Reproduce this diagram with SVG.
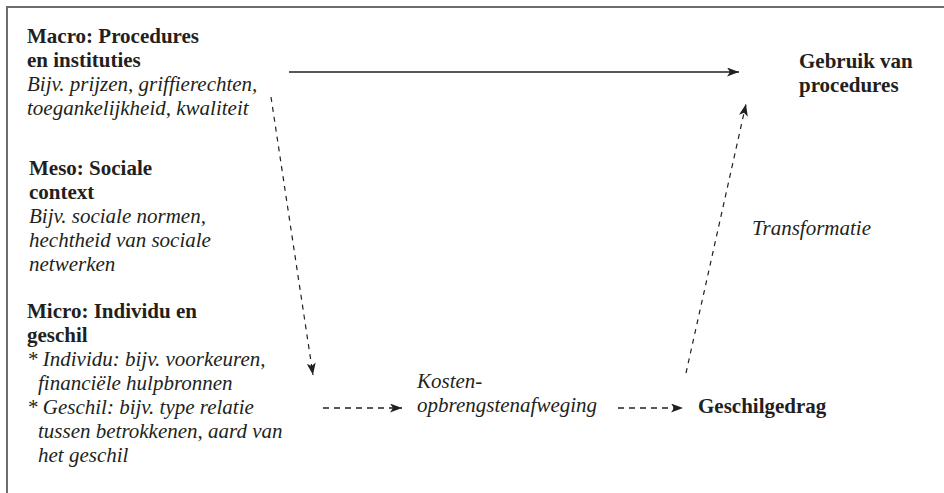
<svg xmlns="http://www.w3.org/2000/svg" width="944" height="493" viewBox="0 0 944 493">
<style>
  text { font-family: "Liberation Serif", "Times New Roman", serif; font-size: 21px; fill: #231f20; }
  .b { font-weight: bold; }
  .i { font-style: italic; }
  .frame { fill: none; stroke: #6d6d6d; stroke-width: 2; }
  .solid { fill: none; stroke: #231f20; stroke-width: 1.4; }
  .dash { fill: none; stroke: #231f20; stroke-width: 1.2; stroke-dasharray: 5 5; }
  .hdash { fill: none; stroke: #231f20; stroke-width: 1.3; stroke-dasharray: 6 5; }
</style>
<defs>
  <marker id="ah" markerUnits="userSpaceOnUse" markerWidth="13" markerHeight="9" refX="12" refY="4.5" orient="auto">
    <path d="M0,0 L12,4.5 L0,9 L3,4.5 Z" fill="#231f20"/>
  </marker>
</defs>
<rect width="944" height="493" fill="#ffffff"/>
<path class="frame" d="M7,493 L7,7 L944,7"/>

<g id="macro">
  <text class="b" x="27" y="43">Macro: Procedures</text>
  <text class="b" x="27" y="67">en instituties</text>
  <text class="i" x="27" y="91">Bijv. prijzen, griffierechten,</text>
  <text class="i" x="27" y="115">toegankelijkheid, kwaliteit</text>
</g>

<g id="meso">
  <text class="b" x="29" y="175">Meso: Sociale</text>
  <text class="b" x="29" y="199">context</text>
  <text class="i" x="29" y="223">Bijv. sociale normen,</text>
  <text class="i" x="29" y="247">hechtheid van sociale</text>
  <text class="i" x="29" y="271">netwerken</text>
</g>

<g id="micro">
  <text class="b" x="27" y="318">Micro: Individu en</text>
  <text class="b" x="27" y="342">geschil</text>
  <text class="i" x="27" y="366">* Individu: bijv. voorkeuren,</text>
  <text class="i" x="38" y="390">financiële hulpbronnen</text>
  <text class="i" x="27" y="414">* Geschil: bijv. type relatie</text>
  <text class="i" x="38" y="438">tussen betrokkenen, aard van</text>
  <text class="i" x="38" y="462">het geschil</text>
</g>

<g id="gebruik">
  <text class="b" x="799" y="68">Gebruik van</text>
  <text class="b" x="799" y="92">procedures</text>
</g>

<g id="kosten">
  <text class="i" x="417" y="388">Kosten-</text>
  <text class="i" x="417" y="412">opbrengstenafweging</text>
</g>

<g id="geschilgedrag">
  <text class="b" x="698" y="413">Geschilgedrag</text>
</g>

<g id="connectors">
  <line class="solid" x1="289" y1="72" x2="739" y2="72" marker-end="url(#ah)"/>
  <line class="dash" x1="271" y1="97" x2="313" y2="375" marker-end="url(#ah)"/>
  <line class="hdash" x1="323" y1="408" x2="402" y2="408" marker-end="url(#ah)"/>
  <line class="hdash" x1="618" y1="408" x2="683" y2="408" marker-end="url(#ah)"/>
  <line class="dash" x1="686" y1="373" x2="746" y2="104" marker-end="url(#ah)"/>
</g>

<g id="label-transformatie">
  <text class="i" x="752" y="235">Transformatie</text>
</g>
</svg>
